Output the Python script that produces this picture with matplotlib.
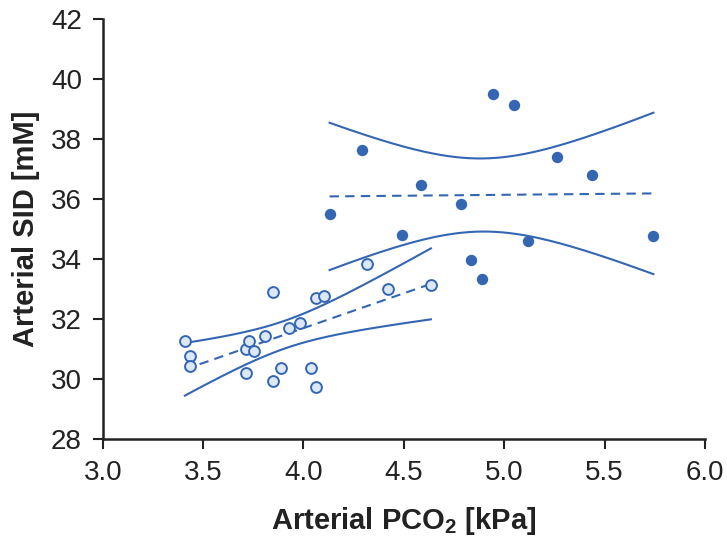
# Arterial SID vs arterial PCO2, two groups with regression lines and 95% CI
import numpy as np
import matplotlib
matplotlib.use('Agg')
import matplotlib.pyplot as plt

plt.rcParams['font.family'] = ['Liberation Sans', 'DejaVu Sans']
plt.rcParams['mathtext.fontset'] = 'custom'
plt.rcParams['mathtext.rm'] = 'Liberation Sans'
plt.rcParams['mathtext.bf'] = 'Liberation Sans:bold'

# data
pco2_filled = [4.944, 5.050, 4.291, 5.263, 5.435, 4.583, 4.784, 4.130, 4.491,
               5.116, 5.743, 4.836, 4.890]
sid_filled = [39.51, 39.14, 37.62, 37.40, 36.79, 36.48, 35.83, 35.50, 34.79,
              34.59, 34.77, 33.97, 33.34]

pco2_open = [3.409, 3.435, 3.435, 3.715, 3.715, 3.729, 3.756, 3.810, 3.850, 3.850,
             3.890, 3.930, 3.982, 4.036, 4.062, 4.062, 4.104, 4.317, 4.423, 4.635]
sid_open = [31.28, 30.76, 30.44, 30.20, 30.99, 31.27, 30.94, 31.42, 32.89, 29.92,
            30.37, 31.71, 31.86, 30.38, 29.72, 32.71, 32.77, 33.82, 33.01, 33.14]

x_ticks = [3.0, 3.5, 4.0, 4.5, 5.0, 5.5, 6.0]
y_ticks = [28, 30, 32, 34, 36, 38, 40, 42]

blue = '#3466b2'
light = '#dde8f6'


def fit_band(x, y, t):
    # least squares line and 95% confidence band of the mean
    x = np.asarray(x)
    y = np.asarray(y)
    n = len(x)
    b, a = np.polyfit(x, y, 1)
    resid = y - (a + b * x)
    s = np.sqrt(np.sum(resid ** 2) / (n - 2))
    sxx = np.sum((x - x.mean()) ** 2)
    xs = np.linspace(x.min(), x.max(), 200)
    fit = a + b * xs
    half = t * s * np.sqrt(1.0 / n + (xs - x.mean()) ** 2 / sxx)
    return xs, fit, fit - half, fit + half


fig = plt.figure(figsize=(7.27, 5.51), dpi=100)
ax = fig.add_axes([0.1413, 0.2033, 0.8284, 0.7622])

dash = (0, (4.5, 3))
for x, y, t in [(pco2_open, sid_open, 2.101), (pco2_filled, sid_filled, 2.201)]:
    xs, fit, lo, hi = fit_band(x, y, t)
    ax.plot(xs, fit, color=blue, lw=1.5, linestyle=dash, zorder=2)
    ax.plot(xs, lo, color=blue, lw=1.5, zorder=2)
    ax.plot(xs, hi, color=blue, lw=1.5, zorder=2)

ax.plot(pco2_open, sid_open, 'o', ms=7.8, mfc=light, mec=blue, mew=1.4,
        linestyle='none', zorder=3)
ax.plot(pco2_filled, sid_filled, 'o', ms=8.2, mfc=blue, mec=blue, mew=0,
        linestyle='none', zorder=3)

ax.set_xlim(3.0, 6.0)
ax.set_ylim(28, 42)
ax.set_xticks(x_ticks)
ax.set_xticklabels(['%.1f' % v for v in x_ticks])
ax.set_yticks(y_ticks)

for side in ['top', 'right']:
    ax.spines[side].set_visible(False)
for side in ['left', 'bottom']:
    ax.spines[side].set_linewidth(1.8)
    ax.spines[side].set_color('#222222')
ax.tick_params(axis='both', direction='out', length=7, width=1.5,
               color='#222222', labelsize=20, labelcolor='#222222')
ax.tick_params(axis='y', pad=8)
ax.tick_params(axis='x', pad=8)

ax.set_xlabel(r'Arterial PCO$_\mathbf{2}$ [kPa]', fontsize=21, fontweight='bold',
              color='#222222', labelpad=14)
ax.set_ylabel('Arterial SID [mM]', fontsize=21, fontweight='bold',
              color='#222222', labelpad=8)

fig.savefig('out.png', dpi=100)
